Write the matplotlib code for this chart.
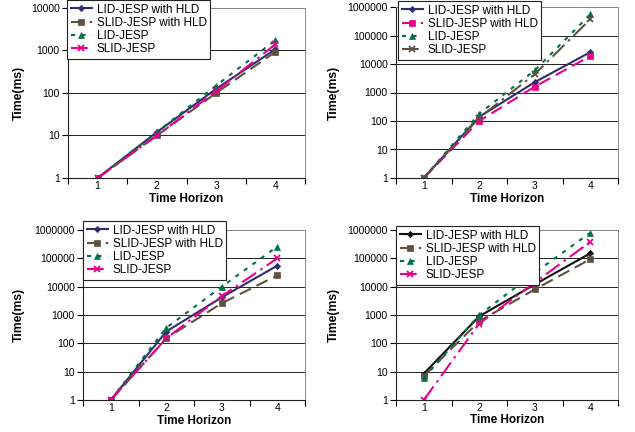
import matplotlib
matplotlib.use("Agg")
import matplotlib.pyplot as plt
from matplotlib.ticker import FixedLocator, FuncFormatter, NullLocator

plt.rcParams['font.family'] = ['Liberation Sans', 'DejaVu Sans']

horizons = [1, 2, 3, 4]
labels = ["LID-JESP with HLD", "SLID-JESP with HLD", "LID-JESP", "SLID-JESP"]

# panel data (ms)
p1_lid_hld = [1, 12, 125, 1070]
p1_slid_hld = [1, 10, 100, 930]
p1_lid = [1, 12, 150, 1750]
p1_slid = [1, 10, 110, 1400]

p2_lid_hld = [1, 140, 2300, 26000]
p2_slid_hld = [1, 100, 1600, 19000]
p2_lid = [1, 180, 6000, 550000]
p2_slid = [1, 130, 4400, 370000]

p3_lid_hld = [1, 260, 4200, 55000]
p3_slid_hld = [1, 150, 2600, 25000]
p3_lid = [1, 350, 10000, 260000]
p3_slid = [1, 150, 4600, 100000]

p4_lid_hld = [8.5, 900, 12000, 150000]
p4_slid_hld = [7, 600, 8000, 93000]
p4_lid = [6, 1000, 31000, 800000]
p4_slid = [1, 500, 14000, 380000]

NAVY = "#2E2E6E"
BROWN = "#5E5140"
GREEN = "#00704A"
MAGENTA = "#E8008A"
BLACK = "#111111"

sty_solid = dict(ls='-')
sty_dash = dict(ls=(0, (6, 3)))
sty_dot = dict(ls=(0, (2, 3)))
sty_dashdot = dict(ls=(0, (8, 2.5, 1.2, 2.5)))

fig = plt.figure(figsize=(6.35, 4.32), dpi=100)

panels = [
    dict(rect=[68/635, 1-178/432, 237/635, 170/432], ymax=10000,
         series=[(p1_lid_hld, NAVY, 'D', sty_solid, 3.2),
                 (p1_slid_hld, BROWN, 's', sty_dash, 4.2),
                 (p1_lid, GREEN, '^', sty_dot, 5),
                 (p1_slid, MAGENTA, 'x', sty_dashdot, 5)],
         leg=(67/635, 1.0), ylab=19/635, xlab=1-199/432),
    dict(rect=[396/635, 1-178/432, 222/635, 171/432], ymax=1000000,
         series=[(p2_lid_hld, NAVY, 'D', sty_solid, 3.2),
                 (p2_slid_hld, MAGENTA, 's', sty_dash, 4.2),
                 (p2_lid, GREEN, '^', sty_dot, 5),
                 (p2_slid, BROWN, 'x', sty_dashdot, 5)],
         leg=(398/635, 1-1/432), ylab=334/635, xlab=1-199/432),
    dict(rect=[83/635, 1-400/432, 222/635, 170/432], ymax=1000000,
         series=[(p3_lid_hld, NAVY, 'D', sty_solid, 3.2),
                 (p3_slid_hld, BROWN, 's', sty_dash, 4.2),
                 (p3_lid, GREEN, '^', sty_dot, 5),
                 (p3_slid, MAGENTA, 'x', sty_dashdot, 5)],
         leg=(83/635, 1-221/432), ylab=19/635, xlab=1-421/432),
    dict(rect=[396/635, 1-400/432, 222/635, 170/432], ymax=1000000,
         series=[(p4_lid_hld, BLACK, 'D', sty_solid, 3.2),
                 (p4_slid_hld, BROWN, 's', sty_dash, 4.2),
                 (p4_lid, GREEN, '^', sty_dot, 5),
                 (p4_slid, MAGENTA, 'x', sty_dashdot, 5)],
         leg=(396/635, 1-226/432), ylab=334/635, xlab=1-420/432),
]

for p in panels:
    ax = fig.add_axes(p['rect'])
    for (vals, col, mk, sty, ms), lab in zip(p['series'], labels):
        ax.plot(horizons, vals, color=col, marker=mk, ms=ms, lw=1.5,
                mew=1.3 if mk == 'x' else 0.5, label=lab, **sty)
    ax.set_yscale('log')
    ax.set_ylim(1, p['ymax'])
    ax.set_xlim(0.5, 4.5)
    decades = []
    v = 1
    while v <= p['ymax']:
        decades.append(v)
        v *= 10
    ax.yaxis.set_major_locator(FixedLocator(decades))
    ax.yaxis.set_minor_locator(NullLocator())
    ax.yaxis.set_major_formatter(FuncFormatter(lambda y, pos: f"{int(round(y))}"))
    ax.set_xticks([0.5, 1.5, 2.5, 3.5, 4.5])
    ax.set_xticklabels([])
    ax.set_xticks(horizons, minor=True)
    ax.set_xticklabels([str(h) for h in horizons], minor=True)
    ax.tick_params(axis='x', which='major', direction='out', length=4, width=0.8)
    ax.tick_params(axis='x', which='minor', length=0, labelsize=7.5, pad=2)
    ax.tick_params(axis='y', direction='out', length=4, width=0.8, labelsize=7.5, pad=2)
    ax.grid(axis='y', which='major', color='#222222', lw=0.7)
    ax.set_axisbelow(True)
    for s in ['top', 'right']:
        ax.spines[s].set_color('#888888')
        ax.spines[s].set_linewidth(0.7)
    for s in ['left', 'bottom']:
        ax.spines[s].set_color('#222222')
        ax.spines[s].set_linewidth(0.8)
    ax.set_ylabel("Time(ms)", fontsize=8.8, fontweight='bold')
    ax.yaxis.set_label_coords(p['ylab'], p['rect'][1] + p['rect'][3] / 2,
                              transform=fig.transFigure)
    ax.set_xlabel("Time Horizon", fontsize=8.5, fontweight='bold')
    ax.xaxis.set_label_coords(p['rect'][0] + p['rect'][2] / 2, p['xlab'],
                              transform=fig.transFigure)
    ax.xaxis.label.set_va('center')
    ax.yaxis.label.set_va('center')
    leg = ax.legend(loc='upper left', bbox_to_anchor=p['leg'],
                    bbox_transform=fig.transFigure, fontsize=8.5,
                    frameon=True, fancybox=False, framealpha=1,
                    edgecolor='#222222', borderpad=0.3, labelspacing=0.1,
                    handlelength=1.8, handletextpad=0.4, borderaxespad=0)
    leg.get_frame().set_linewidth(0.8)

fig.savefig("out.png", dpi=100)
